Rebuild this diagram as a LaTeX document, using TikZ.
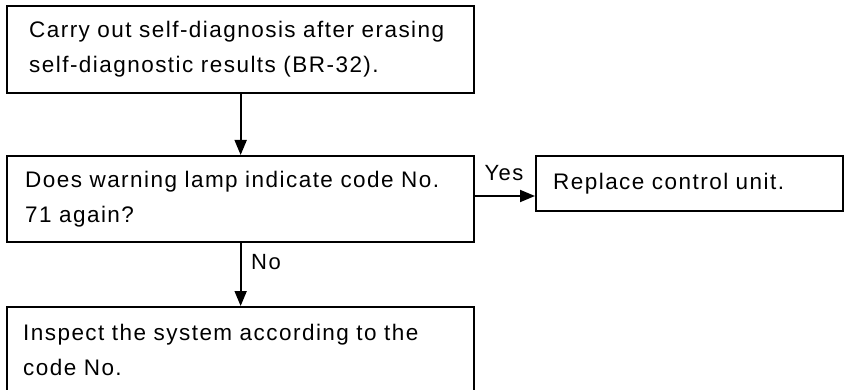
\documentclass[tikz,border=0pt]{standalone}
\usepackage{fontspec}
\setmainfont{Liberation Sans}[LetterSpace=6.5]
\usetikzlibrary{arrows.meta}
\begin{document}
\begin{tikzpicture}[x=1pt,y=-1pt,
  box/.style={draw, line width=2.3pt, rectangle, align=left, anchor=north west,
    inner ysep=0pt, font=\fontsize{22.5}{35}\selectfont},
  arr/.style={line width=1.8pt, -{Triangle[length=15pt,width=12pt]}},
  lbl/.style={font=\fontsize{22}{26}\selectfont, inner sep=0pt}]
\useasboundingbox (0,0) rectangle (846,390);
\node[box, inner xsep=22pt, text width=423pt, minimum width=467pt, minimum height=87pt]
  (b1) at (6,5) {Carry out self-diagnosis after erasing\\self-diagnostic results (BR-32).};
\node[box, inner xsep=18pt, text width=431pt, minimum width=467pt, minimum height=86pt]
  (b2) at (6,155) {Does warning lamp indicate code No.\\71 again?};
\node[box, inner xsep=16pt, text width=435pt, minimum width=467pt, minimum height=86pt]
  (b3) at (6,306) {Inspect the system according to the\\code No.};
\node[box, inner xsep=17pt, text width=273pt, minimum width=307pt, minimum height=55pt]
  (b4) at (535,155) {Replace control unit.};
\coordinate (yy) at (500,196);
\draw[arr] (b1.south) -- (b2.north);
\draw[arr] (b2.south) -- (b3.north);
\draw[arr] (b2.east |- yy) -- (b4.west |- yy);
\node[lbl] (yes) at (504,173) {Yes};
\node[lbl] (no) at (266,262) {No};
\end{tikzpicture}
\end{document}
